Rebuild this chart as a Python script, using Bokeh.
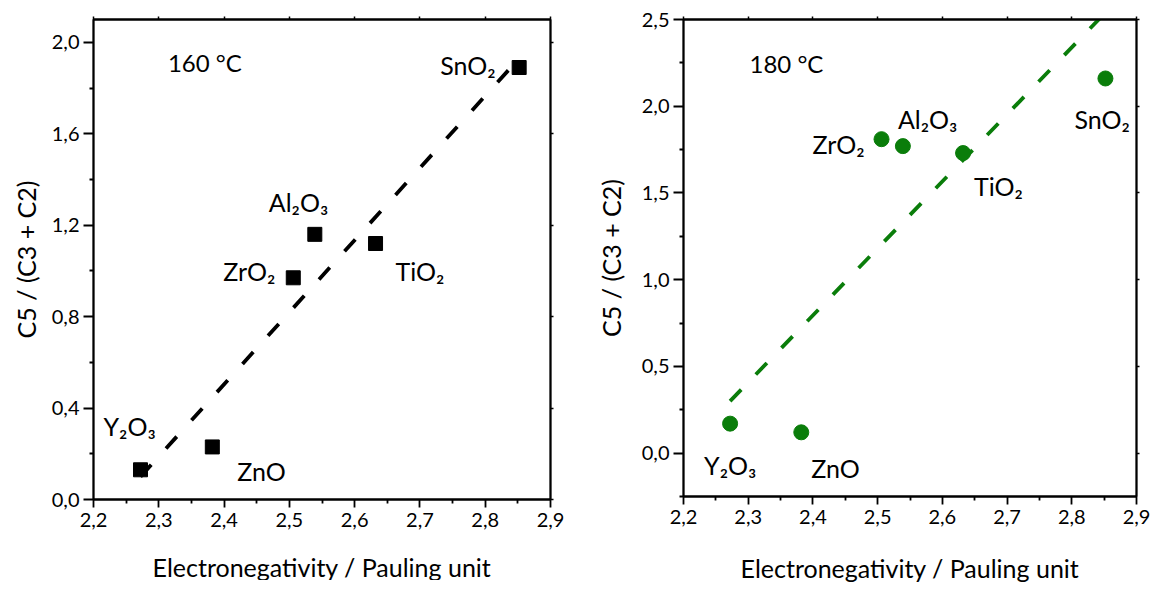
from bokeh.plotting import figure
from bokeh.layouts import row
from bokeh.models import (LinearAxis, FixedTicker, CustomJSTickFormatter, Label,
                          ColumnDataSource, Range1d, CustomLabelingPolicy)
from bokeh.embed import file_html
from bokeh.resources import INLINE
from bokeh.core.properties import value

# ---------------- data ----------------
oxides = ["Y\u2082O\u2083", "ZnO", "ZrO\u2082", "Al\u2082O\u2083", "TiO\u2082", "SnO\u2082"]
electroneg = [2.272, 2.382, 2.506, 2.539, 2.632, 2.852]
ratio_160 = [0.13, 0.23, 0.97, 1.16, 1.12, 1.89]
ratio_180 = [0.17, 0.12, 1.81, 1.77, 1.73, 2.16]
fit_x = [2.272, 2.852]
fit_y_160 = [0.10, 1.93]
fit_y_180 = [0.30, 2.54]

x_ticks = [2.2, 2.3, 2.4, 2.5, 2.6, 2.7, 2.8, 2.9]
x_minor = [2.25, 2.35, 2.45, 2.55, 2.65, 2.75, 2.85]
y_ticks_160 = [0.0, 0.4, 0.8, 1.2, 1.6, 2.0]
y_minor_160 = [0.2, 0.6, 1.0, 1.4, 1.8]
y_ticks_180 = [0.0, 0.5, 1.0, 1.5, 2.0, 2.5]
y_minor_180 = [-0.25, 0.25, 0.75, 1.25, 1.75, 2.25]

# label pixel offsets (style)
offs_160_x = [-37, 25, -70, -46, 20, -79]
offs_160_y = [-44, 24, -7, -32, 27, -3]
offs_180_x = [-26, 10, -69, -5, 11, -31]
offs_180_y = [41, 36, 5, -27, 33, 41]

FONT = "Lato"
GREEN = "#0a7d0a"

fmt = CustomJSTickFormatter(code="return tick.toFixed(1).replace('.', ',');")


def make_fig(ys, fy, yr, yt, ym, color, marker, msize, offx, offy,
             title_txt, tx, ty, fw, fh, bl, br, bt, bb, xstand, ystand, dash):
    p = figure(output_backend="svg", toolbar_location=None,
               frame_width=fw, frame_height=fh,
               x_range=Range1d(2.2, 2.9), y_range=Range1d(*yr),
               min_border_left=bl, min_border_right=br,
               min_border_top=bt, min_border_bottom=bb,
               x_axis_location=None, y_axis_location=None)
    p.grid.visible = False
    p.outline_line_color = "black"
    p.outline_line_width = 1.8
    p.background_fill_color = "white"
    p.border_fill_color = "white"

    bottom = LinearAxis(ticker=FixedTicker(ticks=x_ticks, minor_ticks=x_minor),
                        formatter=fmt,
                        axis_label="Electronegativity / Pauling unit")
    left = LinearAxis(ticker=FixedTicker(ticks=yt, minor_ticks=ym),
                      formatter=fmt, axis_label="C5 / (C3 + C2)")
    for ax in (bottom, left):
        ax.axis_line_width = 1.8
        ax.major_tick_line_width = 1.8
        ax.minor_tick_line_width = 1.8
        ax.major_tick_in = 0
        ax.minor_tick_in = 0
        ax.major_label_text_font = FONT
        ax.major_label_text_font_size = "20px"
        ax.major_label_text_color = "black"
        ax.axis_label_text_font = FONT
        ax.axis_label_text_font_size = "25px"
        ax.axis_label_text_font_style = "normal"
        ax.axis_label_text_color = "black"
    bottom.major_tick_out = 8
    bottom.minor_tick_out = 4
    bottom.major_label_standoff = 5
    bottom.axis_label_standoff = xstand
    left.major_tick_out = 10
    left.minor_tick_out = 4
    left.major_label_standoff = 4
    left.axis_label_standoff = ystand
    p.add_layout(bottom, "below")
    p.add_layout(left, "left")

    for loc, tk in (("above", FixedTicker(ticks=x_ticks, minor_ticks=x_minor)),
                    ("right", FixedTicker(ticks=yt, minor_ticks=ym))):
        ax = LinearAxis(ticker=tk,
                        major_label_policy=CustomLabelingPolicy(code="return new Set()"))
        ax.axis_line_width = 1.8
        ax.major_tick_line_width = 1.5
        ax.major_tick_in = 0
        ax.major_tick_out = 3
        ax.minor_tick_in = 0
        ax.minor_tick_out = 0
        ax.major_label_standoff = 0
        p.add_layout(ax, loc)

    p.line(fit_x, fy, line_color=color, line_width=3.8, line_dash=dash)
    src = ColumnDataSource(dict(x=electroneg, y=ys, name=oxides, ox=offx, oy=offy))
    p.scatter("x", "y", source=src, marker=marker, size=msize,
              fill_color=color, line_color=color)
    p.text("x", "y", text="name", source=src, x_offset="ox", y_offset="oy",
           text_font=value(FONT), text_font_size="25px", text_color="black",
           text_baseline="alphabetic", text_align="left")
    p.add_layout(Label(x=tx, y=ty, text=title_txt, text_font=FONT,
                       text_font_size="24px", text_color="black",
                       text_baseline="alphabetic"))
    return p


p1 = make_fig(ratio_160, fit_y_160, (0.0, 2.1),
              y_ticks_160, y_minor_160, "black", "square", 14,
              offs_160_x, offs_160_y, "160 \u00b0C", 2.314, 1.913,
              457, 480, 93, 11, 15, 85, 22, 8, "16 22")
p2 = make_fig(ratio_180, fit_y_180, (-0.25, 2.5),
              y_ticks_180, y_minor_180, GREEN, "circle", 15,
              offs_180_x, offs_180_y, "180 \u00b0C", 2.302, 2.249,
              453, 477, 112, 10, 19, 84, 26, 13, "16 21")

layout = row(p1, p2)
open("out.html", "w").write(file_html(layout, INLINE))
